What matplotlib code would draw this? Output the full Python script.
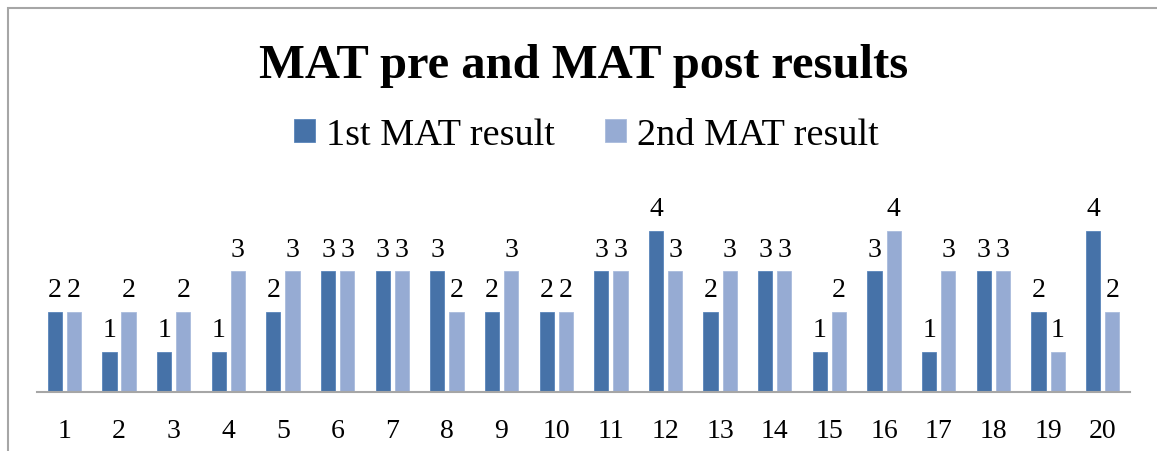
import numpy as np
import matplotlib.pyplot as plt
from matplotlib.patches import Rectangle

plt.rcParams['font.family'] = ['Liberation Serif', 'DejaVu Serif']

students = [str(i) for i in range(1, 21)]
mat_pre = [2, 1, 1, 1, 2, 3, 3, 3, 2, 2, 3, 4, 2, 3, 1, 3, 1, 3, 2, 4]
mat_post = [2, 2, 2, 3, 3, 3, 3, 2, 3, 2, 3, 3, 3, 3, 2, 4, 3, 3, 1, 2]

dark = '#4672A8'
light = '#96ABD3'

fig = plt.figure(figsize=(11.57, 4.52), dpi=100)
ax = fig.add_axes([0.032, 0.1305, 0.9447, 0.3562])

x = np.arange(len(students))
w = 0.26
b1 = ax.bar(x - 0.175, mat_pre, w, color=dark, edgecolor='#5a85bb', linewidth=0.6, label='1st MAT result')
b2 = ax.bar(x + 0.175, mat_post, w, color=light, edgecolor='#a9bbdd', linewidth=0.6, label='2nd MAT result')
ax.bar_label(b1, padding=7, fontsize=20)
ax.bar_label(b2, padding=7, fontsize=20)

ax.set_xlim(-0.5, len(students) - 0.5)
ax.set_ylim(0, 4)
ax.set_xticks(x)
ax.set_xticklabels(students, fontsize=20)
ax.tick_params(axis='x', length=0, pad=19)
ax.set_yticks([])
for s in ['top', 'right', 'left']:
    ax.spines[s].set_visible(False)
ax.spines['bottom'].set_color('#a6a6a6')
ax.spines['bottom'].set_linewidth(1.5)
for t in ax.texts:
    t.set_clip_on(False)

fig.text(0.504, 0.853, 'MAT pre and MAT post results', ha='center', va='center',
         fontsize=35, fontweight='bold')
fig.legend(handles=[b1, b2], loc='center', bbox_to_anchor=(0.507, 0.70), ncol=2,
           frameon=False, fontsize=27.5, handlelength=0.55, handleheight=0.55,
           handletextpad=0.3, columnspacing=1.3)

# chart border
fig.patches.append(Rectangle((8 / 1157, -0.05), 1.2, 1 - 9 / 452 + 0.05,
                             transform=fig.transFigure, fill=False,
                             edgecolor='#a6a6a6', linewidth=1.5))

fig.savefig('out.png', dpi=100)
